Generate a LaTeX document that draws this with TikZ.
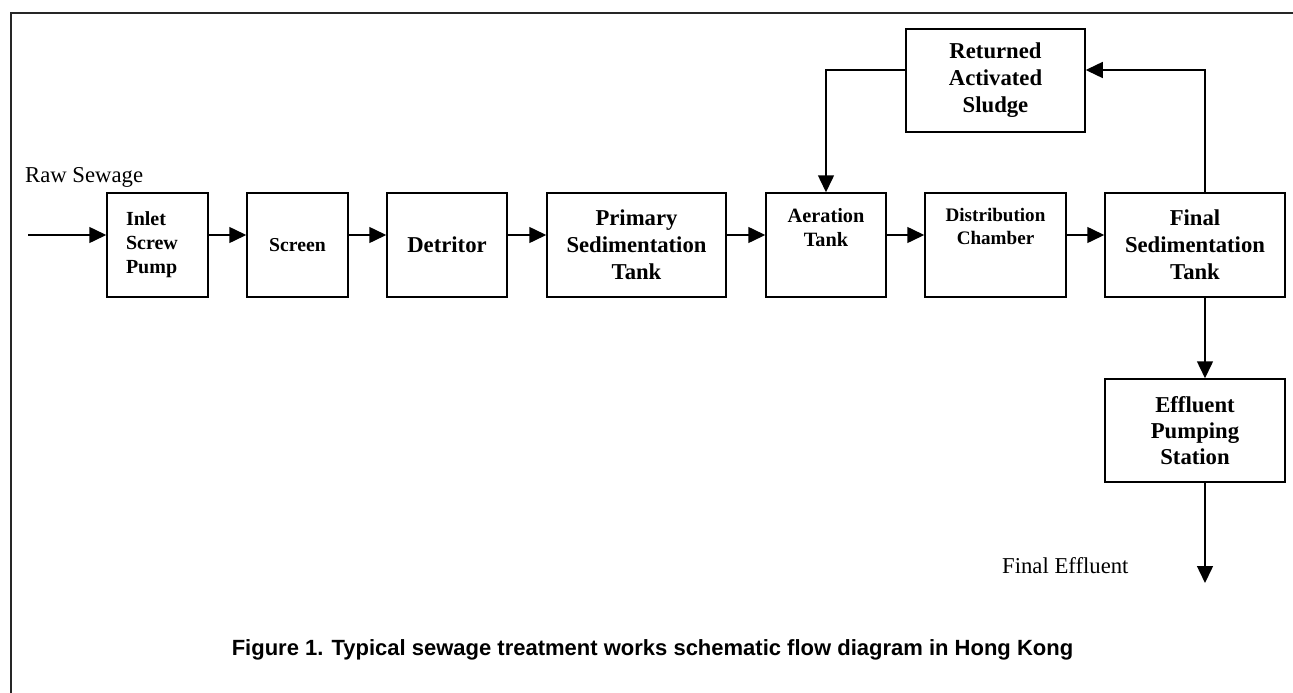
\documentclass[tikz,border=0pt]{standalone}
\usepackage{fontspec}
\setmainfont{Liberation Serif}
\newfontfamily\capfont{Liberation Sans}
\usetikzlibrary{arrows.meta}

\tikzset{
  box/.style={draw, line width=1.5pt, inner sep=0pt, minimum height=104pt,
    align=center, font=\bfseries\fontsize{22.7}{27}\selectfont},
  flow/.style={line width=1.5pt, -{Triangle[length=17pt,width=16pt]}},
  plain/.style={inner sep=0pt, anchor=base west, font=\fontsize{22.7}{27}\selectfont},
}

\begin{document}
\begin{tikzpicture}[x=1pt,y=-1pt]
\useasboundingbox (0,0) rectangle (1293,693);

    % Frame
    \draw[line width=2.5pt, black!85] (11,693) -- (11,13) -- (1293,13);

    % Main row of units
    \node[box, text width=63pt, inner xsep=19pt, align=left,
          font=\bfseries\fontsize{20}{24}\selectfont] (inlet) at (157.5,245) {Inlet\\Screw\\Pump};
    \node[box, minimum width=101pt, font=\bfseries\fontsize{19.7}{24}\selectfont] (screen) at (297.5,245) {Screen};
    \node[box, minimum width=120pt] (detritor) at (447,245) {Detritor};
    \node[box, minimum width=179pt] (primary) at (636.5,245) {Primary\\Sedimentation\\Tank};
    \node[box, minimum width=120pt, font=\bfseries\fontsize{20.3}{24}\selectfont] (aeration) at (826,245)
          {Aeration\\Tank\rule[-36pt]{0pt}{36pt}};
    \node[box, minimum width=141pt, font=\bfseries\fontsize{19.1}{23}\selectfont] (distrib) at (995.5,245)
          {Distribution\\Chamber\rule[-38pt]{0pt}{38pt}};
    \node[box, minimum width=180pt] (final) at (1195,245) {Final\\Sedimentation\\Tank};

    % Sludge return and effluent
    \node[box, minimum width=179pt, minimum height=103pt] (returned) at (995.5,80.5) {Returned\\Activated\\Sludge};
    \node[box, minimum width=180pt, minimum height=103pt, font=\bfseries\fontsize{22.7}{26}\selectfont]
          (effluent) at (1195,430.5) {Effluent\\Pumping\\Station};

    % Flow lines
    \coordinate (mainline) at (0,235);
    \coordinate (loopline) at (0,70);
    \coordinate (rise) at (1205,0);
    \coordinate (inflow) at (28,235);
    \coordinate (outflow) at (1205,583);

    \draw[flow] (inflow) -- (inlet.west |- mainline);
    \foreach \a/\b in {inlet/screen, screen/detritor, detritor/primary,
                       primary/aeration, aeration/distrib, distrib/final}
      \draw[flow] (\a.east |- mainline) -- (\b.west |- mainline);

    \draw[flow] (final.north -| rise) -- (rise |- loopline) -- (returned.east |- loopline);
    \draw[flow] (returned.west |- loopline) -| (aeration.north);
    \draw[flow] (final.south -| rise) -- (effluent.north -| rise);
    \draw[flow] (effluent.south -| rise) -- (outflow);

    % Labels
    \node[plain] (rawlabel) at (25,182) {Raw Sewage};
    \node[plain] (outlabel) at (1002,573) {Final Effluent};

    % Caption
    \node[inner sep=0pt, anchor=base, font=\capfont\bfseries\fontsize{22}{26}\selectfont] (caption) at (652.5,655)
          {Figure 1. Typical sewage treatment works schematic flow diagram in Hong Kong};

\end{tikzpicture}
\end{document}
